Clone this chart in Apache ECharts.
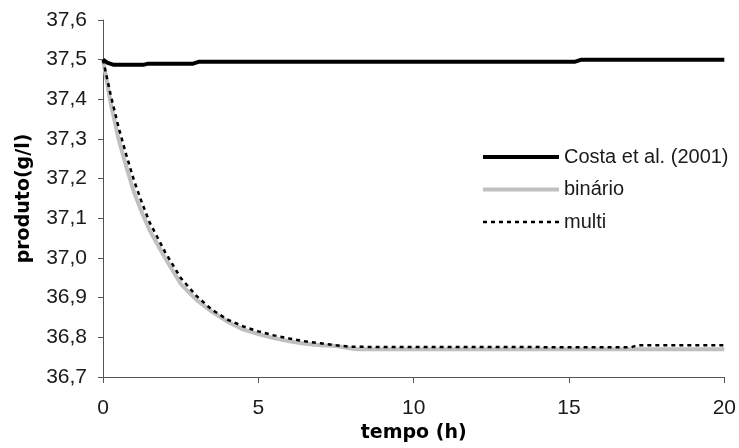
<!DOCTYPE html>
<html>
<head>
<meta charset="utf-8">
<script src="https://cdn.jsdelivr.net/npm/echarts@6/dist/echarts.min.js"></script>
<style>
    html, body { margin: 0; padding: 0; background: #fff; }
    #chart { width: 739px; height: 448px; }
</style>
</head>
<body>
<div id="chart"></div>
<script>
// tempo (h) / produto (g/l)
let costaTime = [0, 0.15, 0.35, 1.3, 1.45, 2.9, 3.1, 15.2, 15.4, 20];
let costaValues = [37.5, 37.492, 37.487, 37.487, 37.490, 37.490, 37.495, 37.495, 37.5, 37.5];

let binarioTime = [0, 0.25, 0.5, 0.75, 1, 1.25, 1.5, 2, 2.5, 3, 3.5, 4, 4.5, 5, 5.5, 6, 6.5, 7, 7.5, 8, 8.2, 20];
let binarioValues = [37.5, 37.39, 37.30, 37.23, 37.165, 37.115, 37.07, 37.0, 36.935, 36.895, 36.865, 36.84, 36.82,
    36.808, 36.798, 36.79, 36.784, 36.78, 36.778, 36.772, 36.77, 36.77];

let multiTime = [0, 0.25, 0.5, 0.75, 1, 1.25, 1.5, 2, 2.5, 3, 3.5, 4, 4.5, 5, 5.5, 6, 6.5, 7, 7.5, 8, 17, 17.2, 20];
let multiValues = [37.5, 37.41, 37.33, 37.26, 37.195, 37.14, 37.09, 37.015, 36.95, 36.905, 36.87, 36.845, 36.828,
    36.815, 36.805, 36.797, 36.79, 36.785, 36.78, 36.776, 36.775, 36.78, 36.78];

let yTicks = {min: 36.7, max: 37.6, interval: 0.1};
let xTicks = {min: 0, max: 20, interval: 5};

function pairs(xs, ys) {
    let list = [];
    for (let i = 0; i < xs.length; i++) {
        list.push([xs[i], ys[i]]);
    }
    return list;
}

let tickFont = {
    color: '#1a1a1a',
    fontFamily: 'Liberation Sans, Arial, sans-serif',
    fontSize: 21
};
let nameFont = {
    color: '#000',
    fontFamily: 'DejaVu Sans, sans-serif',
    fontWeight: 'bold',
    fontSize: 19
};

let chart = echarts.init(document.getElementById('chart'));
chart.setOption({
    animation: false,
    grid: {
        left: 103,
        right: 14,
        top: 20,
        bottom: 67
    },
    legend: {
        orient: 'vertical',
        left: 476,
        top: 142,
        itemWidth: 76,
        itemHeight: 20,
        itemGap: 12.5,
        itemStyle: { opacity: 0 },
        textStyle: {
            color: '#1a1a1a',
            fontFamily: 'Liberation Sans, Arial, sans-serif',
            fontSize: 20
        },
        data: [
            { name: 'Costa et al. (2001)', lineStyle: { width: 4, color: '#000' } },
            { name: 'binário', lineStyle: { width: 4, color: '#c0c0c0' } },
            { name: 'multi', lineStyle: { width: 2.5, color: '#000', type: [4, 4] } }
        ]
    },
    xAxis: {
        type: 'value',
        min: xTicks.min,
        max: xTicks.max,
        interval: xTicks.interval,
        name: 'tempo (h)',
        nameLocation: 'middle',
        nameGap: 47,
        nameTextStyle: nameFont,
        axisLine: { lineStyle: { color: '#555', width: 1 } },
        axisTick: { show: true, length: 6, lineStyle: { color: '#555' } },
        axisLabel: Object.assign({ margin: 21 }, tickFont),
        splitLine: { show: false }
    },
    yAxis: {
        type: 'value',
        min: yTicks.min,
        max: yTicks.max,
        interval: yTicks.interval,
        name: 'produto(g/l)',
        nameLocation: 'middle',
        nameGap: 69,
        nameTextStyle: nameFont,
        axisLine: { show: true, lineStyle: { color: '#555', width: 1 } },
        axisTick: { show: true, length: 5, lineStyle: { color: '#555' } },
        axisLabel: Object.assign({
            margin: 16,
            formatter: function (value) {
                return value.toFixed(1).replace('.', ',');
            }
        }, tickFont),
        splitLine: { show: false }
    },
    series: [
        {
            name: 'binário',
            type: 'line',
            color: '#c0c0c0',
            symbol: 'none',
            lineStyle: { color: '#c0c0c0', width: 4 },
            data: pairs(binarioTime, binarioValues),
            z: 2
        },
        {
            name: 'multi',
            type: 'line',
            color: '#000',
            symbol: 'none',
            lineStyle: { color: '#000', width: 2.5, type: [4, 4] },
            data: pairs(multiTime, multiValues),
            z: 3
        },
        {
            name: 'Costa et al. (2001)',
            type: 'line',
            color: '#000',
            symbol: 'none',
            lineStyle: { color: '#000', width: 4 },
            data: pairs(costaTime, costaValues),
            z: 4
        }
    ]
});
</script>
</body>
</html>
